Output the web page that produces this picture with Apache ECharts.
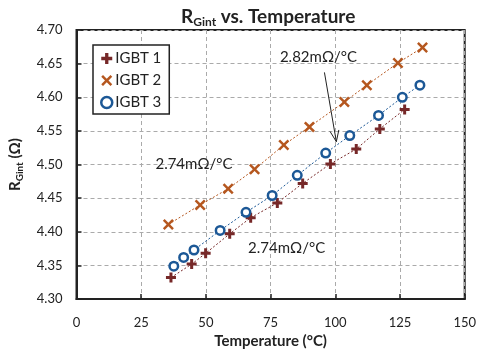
<!DOCTYPE html>
<html><head><meta charset="utf-8">
<script src="https://cdn.jsdelivr.net/npm/echarts@6/dist/echarts.min.js"></script>
<style>html,body{margin:0;padding:0;background:#fff}#c{width:479px;height:354px}</style>
</head><body><div id="c"></div>
<script>
const xTicks = [0, 25, 50, 75, 100, 125, 150];
const yTicks = [4.30, 4.35, 4.40, 4.45, 4.50, 4.55, 4.60, 4.65, 4.70];
const seriesNames = ['IGBT 1', 'IGBT 2', 'IGBT 3'];
const igbt1 = [[36.5,4.332],[44.5,4.352],[49.9,4.368],[59.2,4.397],[67.3,4.421],[77.6,4.443],[87.4,4.472],[98.1,4.501],[108.1,4.523],[117.2,4.553],[126.8,4.582]];
const igbt2 = [[35.5,4.411],[47.8,4.440],[58.6,4.464],[68.8,4.493],[80.1,4.529],[90.0,4.556],[103.5,4.593],[112.2,4.618],[124.2,4.651],[133.7,4.674]];
const igbt3 = [[37.6,4.349],[41.4,4.362],[45.4,4.373],[55.5,4.402],[65.5,4.429],[75.6,4.454],[85.3,4.484],[96.3,4.517],[105.6,4.543],[116.7,4.573],[125.9,4.600],[132.7,4.618]];
const annotations = [
  {text:'2.74mΩ/°C', at:[45.4,4.501]},
  {text:'2.74mΩ/°C', at:[81.2,4.375]},
  {text:'2.82mΩ/°C', at:[93.5,4.659]}
];
const arrowFrom = [95.8,4.637], arrowTo = [100.4,4.534];

const FONT = 'Lato, "Open Sans", sans-serif';
const TXT = '#222';
const c1 = '#762828', c2 = '#b5571f', c3 = '#1c5896';
const plusPath = 'path://M3.5,0H6.5V3.5H10V6.5H6.5V10H3.5V6.5H0V3.5H3.5Z';
const crossPath = 'path://M1.6,0L5,3.4L8.4,0L10,1.6L6.6,5L10,8.4L8.4,10L5,6.6L1.6,10L0,8.4L3.4,5L0,1.6Z';

const chart = echarts.init(document.getElementById('c'), null, {renderer:'canvas'});
function mk(name, data, color, symbol, size, itemStyle) {
  return {
    name, type:'line', data, symbol, symbolSize:size,
    lineStyle:{color, width:1, type:[2,2]},
    itemStyle: itemStyle || {color},
    z: 3
  };
}
chart.setOption({
  animation:false,
  textStyle:{fontFamily:FONT},
  title:{
    text:'{m|R}{s|Gint}{m| vs. Temperature}',
    left:176, top:1,
    textStyle:{rich:{
      m:{fontFamily:FONT, fontSize:19, fontWeight:'bold', color:TXT},
      s:{fontFamily:FONT, fontSize:12, fontWeight:'bold', color:TXT, padding:[10,0,0,0]}
    }}
  },
  grid:{left:76, right:13, top:30, bottom:51, show:true, borderColor:'#222', borderWidth:2},
  legend:{
    orient:'vertical', left:93, top:45,
    itemWidth:11, itemHeight:11, itemGap:7,
    padding:[6,8,4,7],
    borderColor:'#222', borderWidth:1.5, backgroundColor:'#fff',
    textStyle:{fontFamily:FONT, fontSize:15, color:TXT, padding:[0,0,0,-2]},
    data:[
      {name:seriesNames[0], icon:plusPath, itemStyle:{color:c1}},
      {name:seriesNames[1], icon:crossPath, itemStyle:{color:c2}},
      {name:seriesNames[2], icon:'circle', itemStyle:{color:'#fff', borderColor:c3, borderWidth:2.5}}
    ]
  },
  xAxis:{
    type:'value', min:xTicks[0], max:xTicks[xTicks.length-1], interval:25,
    name:'Temperature (°C)', nameLocation:'middle', nameGap:33,
    nameTextStyle:{fontFamily:FONT, fontSize:15, fontWeight:'bold', color:TXT},
    axisLine:{show:true, lineStyle:{color:'#222', width:2}},
    axisTick:{show:true, inside:true, length:5, lineStyle:{color:'#222', width:1.5}},
    axisLabel:{fontFamily:FONT, fontSize:13, color:TXT, margin:17},
    splitLine:{show:true, lineStyle:{color:'#aaa', type:[4,3], width:1}}
  },
  yAxis:{
    type:'value', min:yTicks[0], max:yTicks[yTicks.length-1], interval:0.05,
    name:'{m|R}{s|Gint}{m| (Ω)}', nameLocation:'middle', nameGap:52,
    nameTextStyle:{rich:{
      m:{fontFamily:FONT, fontSize:15, fontWeight:'bold', color:TXT},
      s:{fontFamily:FONT, fontSize:10, fontWeight:'bold', color:TXT, padding:[8,0,0,0]}
    }},
    axisLine:{show:true, lineStyle:{color:'#222', width:2}},
    axisTick:{show:true, inside:true, length:5, lineStyle:{color:'#222', width:1.5}},
    axisLabel:{fontFamily:FONT, fontSize:13, color:TXT, margin:14, formatter:v=>v.toFixed(2)},
    splitLine:{show:true, lineStyle:{color:'#aaa', type:[4,3], width:1}}
  },
  series:[
    mk(seriesNames[0], igbt1, c1, plusPath, 10),
    mk(seriesNames[1], igbt2, c2, crossPath, 11),
    mk(seriesNames[2], igbt3, c3, 'circle', 8.5, {color:'#fff', borderColor:c3, borderWidth:2.5})
  ]
});

const px = p => chart.convertToPixel({gridIndex:0}, p);
const g = [];
annotations.forEach(a => {
  const p = px(a.at);
  g.push({type:'text', x:p[0], y:p[1], z:10, style:{text:a.text, fontFamily:FONT, fontSize:15, fill:TXT, align:'center', verticalAlign:'middle'}});
});
const f = px(arrowFrom), t = px(arrowTo);
const ang = Math.atan2(t[1]-f[1], t[0]-f[0]);
const L = 12, spread = 0.38;
const h1 = [t[0]-L*Math.cos(ang-spread), t[1]-L*Math.sin(ang-spread)];
const h2 = [t[0]-L*Math.cos(ang+spread), t[1]-L*Math.sin(ang+spread)];
g.push({type:'line', z:10, shape:{x1:f[0], y1:f[1], x2:t[0], y2:t[1]}, style:{stroke:'#222', lineWidth:1}});
g.push({type:'polyline', z:10, shape:{points:[h1, t, h2]}, style:{stroke:'#222', lineWidth:1, fill:null}});
chart.setOption({graphic:g});
</script></body></html>
